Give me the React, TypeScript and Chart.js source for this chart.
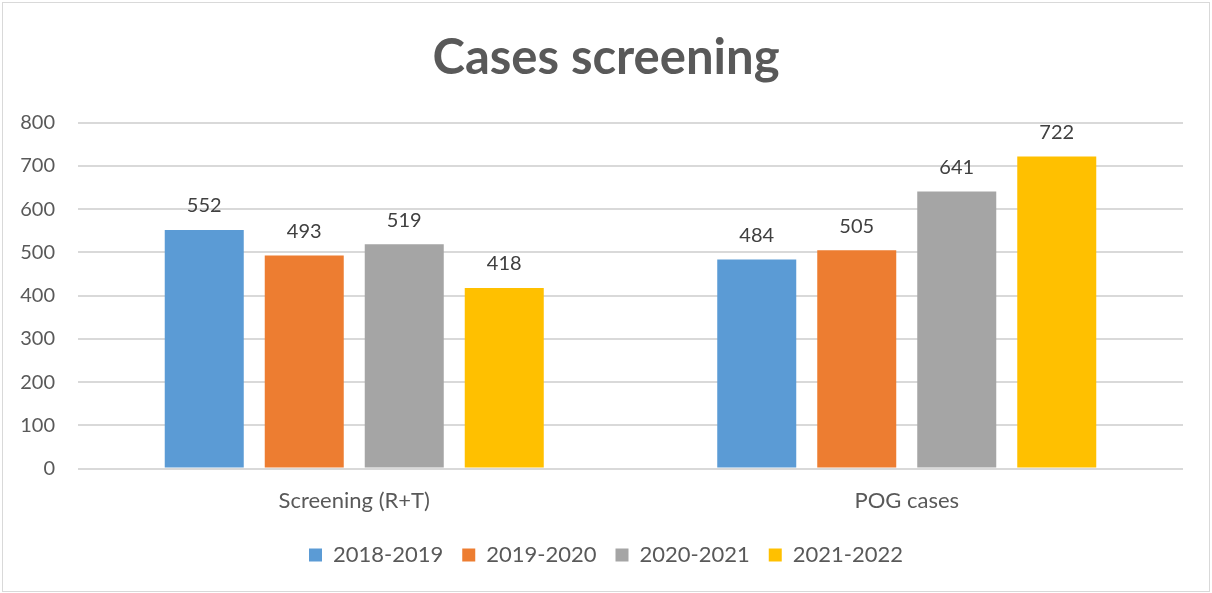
import React, { useEffect, useRef } from "react";
import { Chart, registerables } from "chart.js";

Chart.register(...registerables);

const categories = ["Screening (R+T)", "POG cases"];
const seriesLabels = ["2018-2019", "2019-2020", "2020-2021", "2021-2022"];
const values2018 = [552, 484];
const values2019 = [493, 505];
const values2020 = [519, 641];
const values2021 = [418, 722];
const seriesColors = ["#5B9BD5", "#ED7D31", "#A5A5A5", "#FFC000"];
const yMin = 0;
const yMax = 800;
const yStep = 100;

const FONT = "Lato, 'Open Sans', sans-serif";

const dataLabelPlugin = {
  id: "dataLabels",
  afterDatasetsDraw(chart: any) {
    const ctx = chart.ctx;
    ctx.save();
    ctx.font = `20px ${FONT}`;
    ctx.fillStyle = "#404040";
    ctx.textAlign = "center";
    ctx.textBaseline = "middle";
    chart.data.datasets.forEach((ds: any, i: number) => {
      const meta = chart.getDatasetMeta(i);
      meta.data.forEach((el: any, j: number) => {
        ctx.fillText(String(ds.data[j]), el.x, el.y - 24);
      });
    });
    ctx.restore();
  },
};

export default function App() {
  const ref = useRef<HTMLCanvasElement | null>(null);

  useEffect(() => {
    if (!ref.current) return;
    const allSeries = [values2018, values2019, values2020, values2021];
    const chart = new Chart(ref.current, {
      type: "bar",
      data: {
        labels: categories,
        datasets: allSeries.map((d, i) => ({
          label: seriesLabels[i],
          data: d,
          backgroundColor: seriesColors[i],
          borderWidth: 0,
          categoryPercentage: 0.724,
          barPercentage: 0.79,
        })),
      },
      options: {
        responsive: false,
        animation: false,
        layout: { padding: { left: 0, right: 0, top: 29, bottom: 17 } },
        plugins: {
          title: {
            display: true,
            text: "Cases screening",
            color: "#595959",
            font: { family: FONT, size: 49, weight: "bold" },
            padding: { top: 0, bottom: 35 },
          },
          legend: {
            position: "bottom",
            labels: {
              color: "#595959",
              font: { family: FONT, size: 22 },
              boxWidth: 13,
              boxHeight: 13,
              padding: 19,
            },
          },
          tooltip: { enabled: false },
        },
        scales: {
          x: {
            grid: { display: false },
            border: { display: false },
            ticks: { color: "#595959", font: { family: FONT, size: 22 }, padding: 11 },
          },
          y: {
            min: yMin,
            max: yMax,
            afterFit(scale: any) {
              scale.width = 78;
            },
            ticks: {
              stepSize: yStep,
              color: "#595959",
              font: { family: FONT, size: 20 },
              padding: 23,
            },
            grid: { color: "#D9D9D9", lineWidth: 2, drawTicks: false },
            border: { display: false },
          },
          yRightSpace: {
            position: "right",
            display: true,
            afterFit(scale: any) {
              scale.width = 29;
            },
            ticks: { display: false },
            grid: { drawOnChartArea: false, drawTicks: false, display: false },
            border: { display: false },
          },
        },
      },
      plugins: [dataLabelPlugin],
    });
    return () => chart.destroy();
  }, []);

  return (
    <div style={{ position: "fixed", left: 0, top: 0, width: 1212, height: 593, background: "#fff" }}>
      <canvas ref={ref} width={1212} height={593} style={{ position: "absolute", left: 0, top: 0 }} />
      <div
        style={{
          position: "absolute",
          left: 2,
          top: 2,
          width: 1208,
          height: 590,
          boxSizing: "border-box",
          border: "1px solid #D9D9D9",
          pointerEvents: "none",
        }}
      />
    </div>
  );
}
